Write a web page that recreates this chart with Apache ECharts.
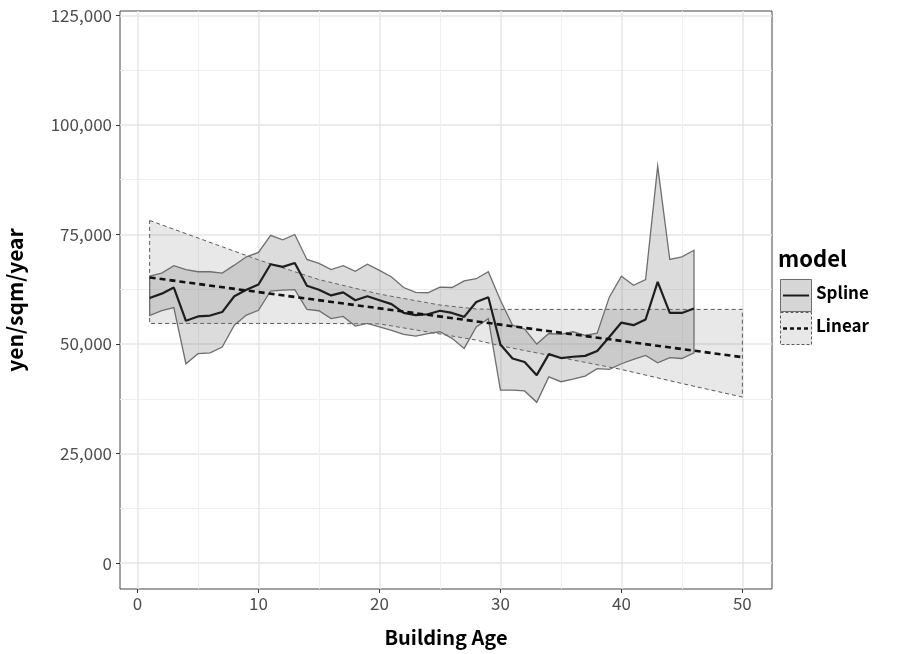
<!DOCTYPE html>
<html>
<head>
<meta charset="utf-8">
<title>yen/sqm/year by Building Age</title>
<script src="https://cdn.jsdelivr.net/npm/echarts@6.0.0/dist/echarts.min.js"></script>
<style>
  html, body { margin: 0; padding: 0; background: #fff; }
  #main { width: 905px; height: 654px; }
</style>
</head>
<body>
<div id="main"></div>
<script>
// spline model, one point per building age
var splineAge = [1, 2, 3, 4, 5, 6, 7, 8, 9, 10, 11, 12, 13, 14, 15, 16, 17, 18, 19, 20, 21, 22, 23,
  24, 25, 26, 27, 28, 29, 30, 31, 32, 33, 34, 35, 36, 37, 38, 39, 40, 41, 42, 43, 44, 45, 46];
var splineFit = [60500, 61500, 62900, 55300, 56300, 56500, 57300, 60900, 62400, 63600, 68200, 67600,
  68500, 63300, 62400, 61100, 61800, 60000, 60900, 60000, 59100, 57100, 56600, 56800, 57600, 57100,
  56200, 59600, 60700, 49900, 46700, 45900, 42900, 47700, 46800, 47100, 47300, 48400, 51600, 54900,
  54300, 55600, 64200, 57100, 57100, 58100];
var splineUpper = [65500, 66200, 67900, 67000, 66500, 66500, 66200, 68000, 69900, 70900, 74800, 73800,
  75000, 69300, 68400, 67000, 67900, 66600, 68200, 66800, 65300, 62900, 61800, 61700, 63000, 62900,
  64400, 64900, 66500, 60000, 54300, 53400, 50000, 52400, 52200, 52800, 52000, 52500, 60700, 65500,
  63400, 64700, 90600, 69300, 69900, 71400];
var splineLower = [56500, 57600, 58300, 45500, 47800, 48000, 49300, 54300, 56600, 57700, 62100, 62300,
  62400, 57900, 57600, 55800, 56300, 54100, 54700, 53900, 53100, 52200, 51800, 52400, 52800, 51300,
  49000, 53900, 55800, 39500, 39500, 39300, 36700, 42500, 41400, 42000, 42700, 44400, 44200, 45500,
  46500, 47400, 45700, 46900, 46700, 48000];

// linear model
var linearAge = [1, 50];
var linearFit = [65200, 47000];
var linearBandAge = [1, 5, 10, 15, 20, 25, 28, 30, 35, 40, 45, 50];
var linearUpper = [78200, 74200, 69200, 64700, 61400, 58900, 58000, 57900, 57900, 57900, 57900, 57900];
var linearLower = [54700, 54700, 54700, 54700, 54600, 52300, 50900, 49600, 46900, 44200, 41000, 37900];

// axis ticks
var xMajor = [0, 10, 20, 30, 40, 50];
var xMinor = [5, 15, 25, 35, 45];
var yMajor = [0, 25000, 50000, 75000, 100000, 125000];
var yMinor = [12500, 37500, 62500, 87500, 112500];

var legendNames = ['Spline', 'Linear'];

var FONT = '"Noto Sans CJK JP", "Noto Sans", sans-serif';

function pairs(xs, ys) {
  var out = [];
  for (var i = 0; i < xs.length; i++) out.push([xs[i], ys[i]]);
  return out;
}

// ribbon drawn as one polygon: upper edge left->right, lower edge back
function bandRender(xs, upper, lower, style) {
  return function (params, api) {
    if (params.dataIndex !== 0) return;
    var pts = [];
    for (var i = 0; i < xs.length; i++) pts.push(api.coord([xs[i], upper[i]]));
    for (var j = xs.length - 1; j >= 0; j--) pts.push(api.coord([xs[j], lower[j]]));
    return { type: 'polygon', shape: { points: pts }, style: style };
  };
}

function fmtNum(v) {
  return String(v).replace(/\B(?=(\d{3})+(?!\d))/g, ',');
}

var chart = echarts.init(document.getElementById('main'));

var option = {
  animation: false,
  backgroundColor: '#fff',
  grid: {
    left: 120, right: 133, top: 11, bottom: 65,
    outerBoundsMode: 'none', containLabel: false,
    show: true, borderColor: '#444', borderWidth: 1, backgroundColor: '#fff'
  },
  xAxis: [{
    type: 'value', min: -1.45, max: 52.45,
    name: 'Building Age', nameLocation: 'middle', nameGap: 38,
    nameTextStyle: { fontFamily: FONT, fontSize: 20, fontWeight: 'bold', color: '#000' },
    axisLine: { show: false, onZero: false },
    axisTick: { show: true, length: 4, customValues: xMajor, lineStyle: { color: '#333' } },
    axisLabel: { customValues: xMajor, color: '#4d4d4d', fontFamily: FONT, fontSize: 17, margin: 6 },
    splitLine: { show: true, lineStyle: { color: '#e6e6e6', width: 1.5 } }
  }, {
    // minor grid only
    type: 'value', min: -1.45, max: 52.45, position: 'bottom',
    axisLine: { show: false, onZero: false },
    axisTick: { show: false, customValues: xMinor },
    axisLabel: { show: false },
    splitLine: { show: true, lineStyle: { color: '#efefef', width: 1 } }
  }],
  yAxis: [{
    type: 'value', min: -5900, max: 126000,
    name: 'yen/sqm/year', nameLocation: 'middle', nameGap: 94, nameRotate: 90,
    nameTextStyle: { fontFamily: FONT, fontSize: 21, fontWeight: 'bold', color: '#000' },
    axisLine: { show: false, onZero: false },
    axisTick: { show: true, length: 4, customValues: yMajor, lineStyle: { color: '#333' } },
    axisLabel: { customValues: yMajor, color: '#4d4d4d', fontFamily: FONT, fontSize: 17, margin: 8,
      formatter: fmtNum },
    splitLine: { show: true, lineStyle: { color: '#e6e6e6', width: 1.5 } }
  }, {
    type: 'value', min: -5900, max: 126000, position: 'left',
    axisLine: { show: false, onZero: false },
    axisTick: { show: false, customValues: yMinor },
    axisLabel: { show: false },
    splitLine: { show: true, lineStyle: { color: '#efefef', width: 1 } }
  }],
  series: [
    {
      name: 'Linear band', type: 'custom', silent: true, z: 2,
      data: [[linearBandAge[0], linearLower[0]]],
      renderItem: bandRender(linearBandAge, linearUpper, linearLower, {
        fill: 'rgba(128,128,128,0.18)', stroke: '#5a5a5a', lineWidth: 1, lineDash: [4, 3]
      })
    },
    {
      name: 'Spline band', type: 'custom', silent: true, z: 3,
      data: [[splineAge[0], splineLower[0]]],
      renderItem: bandRender(splineAge, splineUpper, splineLower, {
        fill: 'rgba(128,128,128,0.28)', stroke: '#6e6e6e', lineWidth: 1.3
      })
    },
    {
      name: legendNames[0], type: 'line', z: 5, symbol: 'none',
      data: pairs(splineAge, splineFit),
      lineStyle: { color: '#1e1e1e', width: 2.2 }
    },
    {
      name: legendNames[1], type: 'line', z: 6, symbol: 'none',
      data: pairs(linearAge, linearFit),
      lineStyle: { color: '#111', width: 2.6, type: [6, 4] }
    }
  ],
  // legend drawn by hand: box with fill + line key, like the original
  graphic: [
    { type: 'text', left: 778, top: 248,
      style: { text: 'model', font: 'bold 22px ' + FONT, fill: '#000' } },
    { type: 'rect', shape: { x: 780.5, y: 279.5, width: 31, height: 32 },
      style: { fill: '#d6d6d6', stroke: '#6e6e6e', lineWidth: 1 } },
    { type: 'line', shape: { x1: 783, y1: 295.5, x2: 809, y2: 295.5 },
      style: { stroke: '#1e1e1e', lineWidth: 2 } },
    { type: 'text', left: 816, top: 284,
      style: { text: legendNames[0], font: 'bold 17px ' + FONT, fill: '#000' } },
    { type: 'rect', shape: { x: 780.5, y: 312.5, width: 31, height: 32 },
      style: { fill: '#e8e8e8', stroke: '#5a5a5a', lineWidth: 1, lineDash: [3, 2] } },
    { type: 'line', shape: { x1: 783, y1: 328.5, x2: 809, y2: 328.5 },
      style: { stroke: '#111', lineWidth: 2.5, lineDash: [4, 3] } },
    { type: 'text', left: 816, top: 317,
      style: { text: legendNames[1], font: 'bold 17px ' + FONT, fill: '#000' } }
  ]
};

chart.setOption(option);
</script>
</body>
</html>
